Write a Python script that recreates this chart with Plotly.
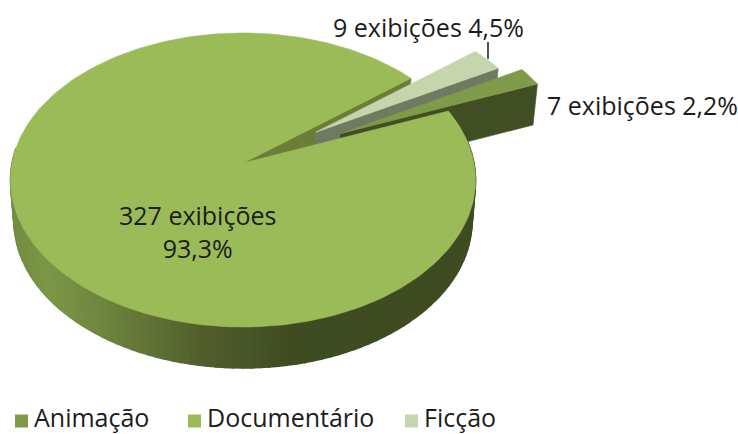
import numpy as np
import plotly.graph_objects as go

# --- data ---
categories = ["Animação", "Documentário", "Ficção"]
exhibitions = [7, 327, 9]
percent_labels = ["2,2%", "93,3%", "4,5%"]
explode = [0.48, 0.0, 0.39]

# --- style / projection ---
START_ANGLE = 60.7
TOP = ["#7f9a48", "#9bbb59", "#c5d5ac"]
FACE = ["#414e24", "#6a7e38", "#6f7a63"]
CX, CY, KX, B, C = 243.0, 163.0, 231.0, 126.2, -0.1156
DEPTH, SHRINK = 41.0, 0.985
FONT = "Open Sans"
FS = 25
TXT = "#1c1c1c"
LEGEND_X = [15, 188, 405]
LEGEND_Y = 417
GRAD_X = [10, 50, 100, 200, 290, 480]
GRAD_R = [0x73, 0x7c, 0x6f, 0x52, 0x3f, 0x3f]
GRAD_G = [0x8c, 0x97, 0x87, 0x5f, 0x4c, 0x4c]
GRAD_B = [0x41, 0x48, 0x3f, 0x2d, 0x22, 0x22]


def project(u, v):
    w = 1 + C * v
    return CX + KX * u / w, (CY + B * v) / w


def lower(x, y):
    return CX + (x - CX) * SHRINK, y + DEPTH


def polar(angle, radius, ox=0.0, oy=0.0):
    a = np.radians(angle)
    return project(ox + radius * np.sin(a), oy - radius * np.cos(a))


fig = go.Figure()


def poly(xs, ys, color, lw=0.6):
    fig.add_trace(go.Scatter(x=list(xs), y=list(ys), mode="lines", fill="toself",
                             fillcolor=color, line=dict(color=color, width=lw),
                             hoverinfo="skip", showlegend=False))


total = sum(exhibitions)
spans = [v / total * 360 for v in exhibitions]
starts = [START_ANGLE + sum(spans[:i]) for i in range(3)]

geom = []
for i in range(3):
    mid = starts[i] + spans[i] / 2
    m = np.radians(mid)
    geom.append((starts[i], starts[i] + spans[i],
                 explode[i] * np.sin(m), -explode[i] * np.cos(m)))


def wedge(i):
    s, e, ox, oy = geom[i]
    angs = np.linspace(s, e, max(3, int((e - s) / 1.5)))
    px, py = polar(angs, 1.0, ox, oy)
    ax, ay = project(ox, oy)
    return ax, ay, px, py


def face(i):
    ax, ay, px, py = wedge(i)
    x2, y2 = lower(px[-1], py[-1])
    x3, y3 = lower(ax, ay)
    poly([ax, px[-1], x2, x3, ax], [ay, py[-1], y2, y3, ay], FACE[i])


def top(i):
    ax, ay, px, py = wedge(i)
    poly([ax, *px, ax], [ay, *py, ay], TOP[i])


# back cut face of the main slice, then the two pulled-out slices
face(1)
face(2)
top(2)
face(0)
top(0)

# rim of the main slice, as shaded strips
edges = np.arange(geom[1][0], 277, 2.0)
for a0, a1 in zip(edges[:-1], edges[1:]):
    tx, ty = polar(np.linspace(a0, a1, 3), 1.0)
    bx, by = lower(tx, ty)
    xm = float(np.mean(bx))
    col = "rgb(%d,%d,%d)" % (np.interp(xm, GRAD_X, GRAD_R),
                             np.interp(xm, GRAD_X, GRAD_G),
                             np.interp(xm, GRAD_X, GRAD_B))
    poly([*tx, *bx[::-1], tx[0]], [*ty, *by[::-1], ty[0]], col, lw=1.5)

top(1)

# leader line
fig.add_trace(go.Scatter(x=[488, 488], y=[42, 59], mode="lines",
                         line=dict(color="#1c1c1c", width=1.5),
                         hoverinfo="skip", showlegend=False))

# legend entries
for name, col, lx in zip(categories, TOP, LEGEND_X):
    fig.add_trace(go.Scatter(x=[lx + 6.5], y=[LEGEND_Y + 4], mode="markers", name=name,
                             marker=dict(symbol="square", size=13, color=col),
                             hoverinfo="name", showlegend=False))
    fig.add_annotation(x=lx + 17, y=LEGEND_Y, text=name, showarrow=False,
                       xanchor="left", yanchor="middle",
                       font=dict(family=FONT, size=FS, color=TXT))

labels = [
    (642, 105, f"{exhibitions[0]} exibições {percent_labels[0]}"),
    (197, 231, f"{exhibitions[1]} exibições<br>{percent_labels[1]}"),
    (428, 27, f"{exhibitions[2]} exibições {percent_labels[2]}"),
]
for x, y, t in labels:
    fig.add_annotation(x=x, y=y, text=t, showarrow=False, xanchor="center", yanchor="middle",
                       font=dict(family=FONT, size=FS, color=TXT))

fig.update_layout(
    width=738, height=434, margin=dict(l=0, r=0, t=0, b=0),
    paper_bgcolor="white", plot_bgcolor="white", showlegend=False,
    xaxis=dict(range=[0, 738], visible=False, fixedrange=True),
    yaxis=dict(range=[434, 0], visible=False, fixedrange=True),
)
fig.write_html("out.html", config={"displayModeBar": False},
               post_script="document.body.style.margin='0';")
